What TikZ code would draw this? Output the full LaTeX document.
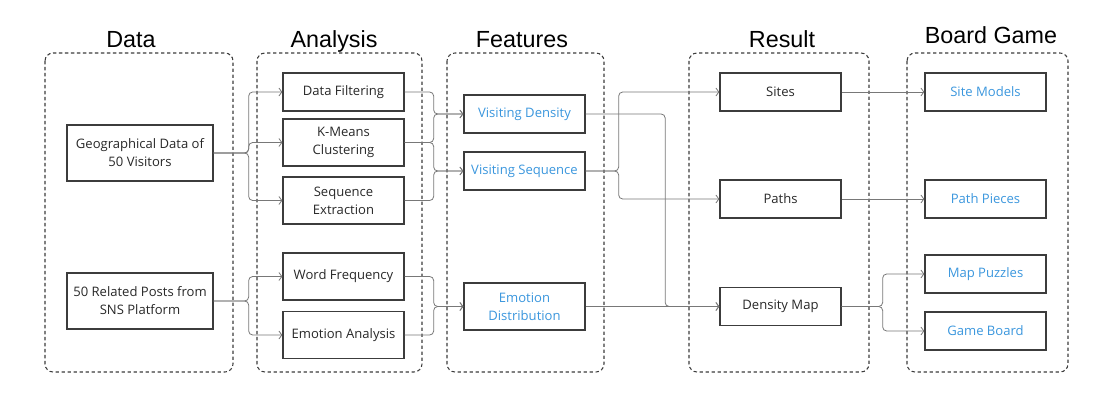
\documentclass[tikz,border=0pt]{standalone}
\usepackage{fontspec}
\setmainfont{Open Sans}
\newfontfamily\titlefont{Liberation Sans}
\usetikzlibrary{arrows.meta}
\definecolor{boxline}{RGB}{60,60,60}
\definecolor{linkgray}{RGB}{120,120,120}
\definecolor{featblue}{RGB}{58,150,221}
\definecolor{txtgray}{RGB}{40,40,40}

\begin{document}
\begin{tikzpicture}[x=0.75pt,y=0.75pt,yscale=-1,xscale=1,
  group/.style={draw=boxline,dashed,dash pattern=on 2.6pt off 1.9pt,line width=0.8pt,rounded corners=6pt},
  title/.style={font=\titlefont\fontsize{17.5}{20}\selectfont,anchor=base},
  box/.style={draw=boxline,line width=1pt,inner sep=0pt,minimum width=90.75pt,minimum height=28.5pt,align=center,text=txtgray,font=\fontsize{9.8}{13.5}\selectfont},
  tall/.style={minimum height=35.25pt},
  wide/.style={minimum width=109.5pt,minimum height=42pt},
  blue/.style={text=featblue},
  link/.style={draw=linkgray,line width=0.6pt,rounded corners=3pt,-{Straight Barb[length=2.2pt,width=6pt]}}]
\useasboundingbox (0,0) rectangle (1100,413);

% dashed groups
\draw[group] (45,53) rectangle (233,372);
\draw[group] (257,53) rectangle (422,372);
\draw[group] (447,53) rectangle (604,372);
\draw[group] (689,53) rectangle (869,372);
\draw[group] (907,53) rectangle (1068,372);

\node[title] (tdata) at (131,48) {Data};
\node[title] (tana) at (334,48) {Analysis};
\node[title] (tfeat) at (522,48) {Features};
\node[title] (tres) at (782,48) {Result};
\node[title] (tgame) at (991,44) {Board Game};

% data
\node[box,wide] (geo) at (140,153) {Geographical Data of\\50 Visitors};
\node[box,wide] (posts) at (140,301) {50 Related Posts from\\SNS Platform};

% analysis
\node[box] (filt) at (343.5,92) {Data Filtering};
\node[box,tall] (kmeans) at (343.5,142.5) {K-Means\\Clustering};
\node[box,tall] (seqx) at (343.5,200.5) {Sequence\\Extraction};
\node[box,tall] (wordf) at (343.5,276.5) {Word Frequency};
\node[box,tall] (emoa) at (343.5,335) {Emotion Analysis};

% features
\node[box,blue] (vden) at (524.5,114) {Visiting Density};
\node[box,blue] (vseq) at (524.5,171) {Visiting Sequence};
\node[box,tall,blue] (emod) at (524.5,306.5) {Emotion\\Distribution};

% result
\node[box] (sites) at (780.5,92) {Sites};
\node[box] (paths) at (780.5,199) {Paths};
\node[box] (dmap) at (780.5,306.5) {Density Map};

% board game
\node[box,blue] (smod) at (985.5,92) {Site Models};
\node[box,blue] (ppie) at (985.5,199) {Path Pieces};
\node[box,blue] (mpuz) at (985.5,274) {Map Puzzles};
\node[box,blue] (gboard) at (985.5,331) {Game Board};

% links
\draw[link] (geo.east) -- ++(35,0) |- (filt.west);
\draw[link] (geo.east) -- ++(35,0) |- (kmeans.west);
\draw[link] (geo.east) -- ++(35,0) |- (seqx.west);
\draw[link] (posts.east) -- ++(35,0) |- (wordf.west);
\draw[link] (posts.east) -- ++(35,0) |- (emoa.west);

\draw[link] (filt.east) -- ++(29,0) |- (vden.west);
\draw[link] (kmeans.east) -- ++(29,0) |- (vden.west);
\draw[link] (kmeans.east) -- ++(29,0) |- (vseq.west);
\draw[link] (seqx.east) -- ++(29,0) |- (vseq.west);
\draw[link] (wordf.east) -- ++(29,0) |- (emod.west);
\draw[link] (emoa.east) -- ++(29,0) |- (emod.west);

\draw[link] (vden.east) -- ++(79.5,0) |- (dmap.west);
\draw[link] (vseq.east) -- ++(33,0) |- (sites.west);
\draw[link] (vseq.east) -- ++(33,0) |- (paths.west);
\draw[link] (emod.east) -- (dmap.west);

\draw[link] (sites.east) -- (smod.west);
\draw[link] (paths.east) -- (ppie.west);
\draw[link] (dmap.east) -- ++(41,0) |- (mpuz.west);
\draw[link] (dmap.east) -- ++(41,0) |- (gboard.west);

\end{tikzpicture}
\end{document}
